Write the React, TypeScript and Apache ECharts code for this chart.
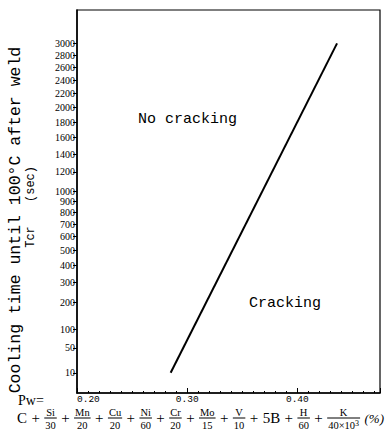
import React, { useEffect, useRef } from "react";
import * as echarts from "echarts";

// ---- data ----
const yTickValues = [10, 50, 100, 200, 300, 400, 500, 600, 700, 800, 900, 1000, 1200, 1400, 1600, 1800, 2000, 2200, 2400, 2600, 2800, 3000];
const xTickStep = 0.1;
const pwMin = 0.2;
const pwMax = 0.475;
const tcrMax = 3600;
const boundaryPw = [0.285, 0.436];
const boundaryTcr = [10, 3000];

const yTitle = "Cooling time until 100°C after weld";
const yTitle2a = "Tcr";
const yTitle2b = "(sec)";
const regionAbove = "No cracking";
const regionBelow = "Cracking";

type Part = { text?: string; num?: string; den?: string; sup?: string; italic?: boolean };
const formulaParts: Part[] = [
  { text: "C" }, { text: "+" }, { num: "Si", den: "30" }, { text: "+" },
  { num: "Mn", den: "20" }, { text: "+" }, { num: "Cu", den: "20" }, { text: "+" },
  { num: "Ni", den: "60" }, { text: "+" }, { num: "Cr", den: "20" }, { text: "+" },
  { num: "Mo", den: "15" }, { text: "+" }, { num: "V", den: "10" }, { text: "+" },
  { text: "5B" }, { text: "+" }, { num: "H", den: "60" }, { text: "+" },
  { num: "K", den: "40×10", sup: "3" }, { text: "(%)", italic: true },
];

// axis transform (square-root scale of the original figure)
const tf = (t: number) => Math.sqrt(t);

const SERIF = '"Liberation Serif", "Times New Roman", serif';
const MONO = '"Liberation Mono", "DejaVu Sans Mono", monospace';

function buildFormula(): any[] {
  const canvas = document.createElement("canvas");
  const ctx = canvas.getContext("2d")!;
  const mainFont = `15px ${SERIF}`;
  const italicFont = `italic 13px ${SERIF}`;
  const fracFont = `10.5px ${SERIF}`;
  const supFont = `8px ${SERIF}`;
  const m = (t: string, f: string) => { ctx.font = f; return ctx.measureText(t).width; };
  const widths = formulaParts.map((p) => {
    if (p.text) return m(p.text, p.italic ? italicFont : mainFont);
    const dw = m(p.den!, fracFont) + (p.sup ? m(p.sup, supFont) : 0);
    return Math.max(m(p.num!, fracFont), dw) + 2;
  });
  const startX = 17;
  const endX = 384;
  const total = widths.reduce((a, b) => a + b, 0);
  const gap = (endX - startX - total) / (formulaParts.length - 1);
  const barY = 418;
  const els: any[] = [];
  let x = startX;
  formulaParts.forEach((p, i) => {
    const w = widths[i];
    if (p.text) {
      els.push({ type: "text", x, y: barY, style: { text: p.text, font: p.italic ? italicFont : mainFont, fill: "#000", textAlign: "left", textVerticalAlign: "middle" } });
    } else {
      const cx = x + w / 2;
      els.push({ type: "line", shape: { x1: x, y1: barY, x2: x + w, y2: barY }, style: { stroke: "#000", lineWidth: 1 } });
      els.push({ type: "text", x: cx, y: barY - 0.5, style: { text: p.num, font: fracFont, fill: "#000", textAlign: "center", textVerticalAlign: "bottom" } });
      if (p.sup) {
        const dw = m(p.den!, fracFont);
        const sw = m(p.sup, supFont);
        const dx = cx - (dw + sw) / 2;
        els.push({ type: "text", x: dx, y: barY + 1.5, style: { text: p.den, font: fracFont, fill: "#000", textAlign: "left", textVerticalAlign: "top" } });
        els.push({ type: "text", x: dx + dw, y: barY + 1, style: { text: p.sup, font: supFont, fill: "#000", textAlign: "left", textVerticalAlign: "top" } });
      } else {
        els.push({ type: "text", x: cx, y: barY + 1.5, style: { text: p.den, font: fracFont, fill: "#000", textAlign: "center", textVerticalAlign: "top" } });
      }
    }
    x += w + gap;
  });
  return els;
}

function tickLabel(v: number): string {
  let best = yTickValues[0];
  let bd = Infinity;
  for (const t of yTickValues) {
    const d = Math.abs(tf(t) - v);
    if (d < bd) { bd = d; best = t; }
  }
  return String(best);
}

export default function App() {
  const ref = useRef<HTMLDivElement>(null);
  useEffect(() => {
    document.body.style.margin = "0";
    const chart = echarts.init(ref.current!, null, { renderer: "svg" });
    const axisLineStyle = { color: "#000", width: 1.5 };
    const custom = yTickValues.map(tf);
    chart.setOption({
      animation: false,
      backgroundColor: "#fff",
      grid: { left: 77, right: 6, top: 10, bottom: 39, show: true, borderColor: "#000", borderWidth: 1.2, containLabel: false },
      xAxis: {
        type: "value",
        min: pwMin,
        max: pwMax,
        interval: xTickStep,
        axisLine: { show: true, lineStyle: axisLineStyle },
        axisTick: { show: true, inside: true, length: 5, lineStyle: { color: "#000", width: 1 } },
        minorTick: { show: true, splitNumber: 10, length: 2, lineStyle: { color: "#000", width: 1 } },
        axisLabel: {
          formatter: (v: number) => v.toFixed(2),
          showMaxLabel: false,
          alignMinLabel: "left",
          fontFamily: MONO,
          fontSize: 9.5,
          color: "#000",
          margin: 1,
        },
        splitLine: { show: false },
      },
      yAxis: {
        type: "value",
        min: 0,
        max: tf(tcrMax),
        axisLine: { show: true, lineStyle: axisLineStyle },
        axisTick: { show: true, inside: false, length: 4, customValues: custom, lineStyle: { color: "#000", width: 1 } },
        axisLabel: {
          customValues: custom,
          formatter: (v: number) => tickLabel(v),
          fontFamily: SERIF,
          fontSize: 10,
          lineHeight: 9,
          color: "#000",
          margin: 2,
        },
        splitLine: { show: false },
      },
      series: [
        {
          type: "line",
          data: boundaryPw.map((p, i) => [p, tf(boundaryTcr[i])]),
          symbol: "none",
          lineStyle: { color: "#000", width: 2 },
        },
      ],
      graphic: [
        { type: "text", x: 15, y: 220, rotation: Math.PI / 2, style: { text: yTitle, font: `16.5px ${MONO}`, fill: "#000", textAlign: "center", textVerticalAlign: "middle" } },
        { type: "text", x: 31, y: 237, rotation: Math.PI / 2, style: { text: yTitle2a, font: `12px ${MONO}`, fill: "#000", textAlign: "center", textVerticalAlign: "middle" } },
        { type: "text", x: 31, y: 184, rotation: Math.PI / 2, style: { text: yTitle2b, font: `12px ${MONO}`, fill: "#000", textAlign: "center", textVerticalAlign: "middle" } },
        { type: "text", x: 138, y: 119, style: { text: regionAbove, font: `15px ${MONO}`, fill: "#000", textAlign: "left", textVerticalAlign: "middle" } },
        { type: "text", x: 249, y: 303, style: { text: regionBelow, font: `15px ${MONO}`, fill: "#000", textAlign: "left", textVerticalAlign: "middle" } },
        { type: "text", x: 18, y: 400, style: { text: "Pw=", font: `14px ${SERIF}`, fill: "#000", textAlign: "left", textVerticalAlign: "middle" } },
        ...buildFormula(),
      ],
    });
    return () => chart.dispose();
  }, []);
  return <div ref={ref} style={{ width: 386, height: 432 }} />;
}
